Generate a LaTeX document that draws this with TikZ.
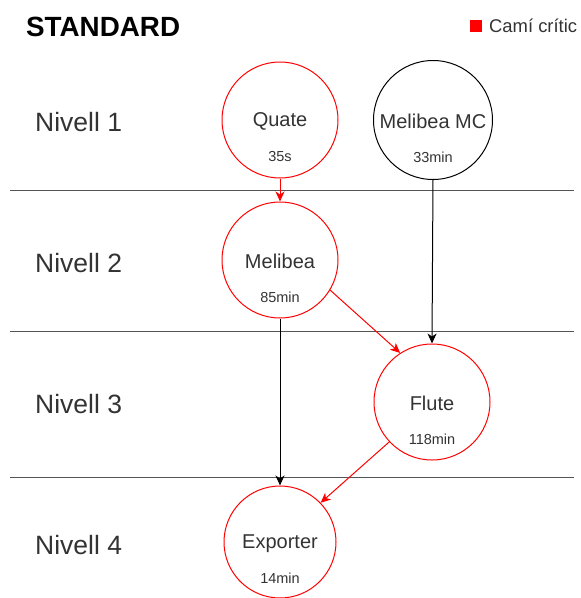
\documentclass[tikz,border=0pt]{standalone}
\usepackage{fontspec}
\setmainfont{Liberation Sans}
\usetikzlibrary{arrows.meta}
\definecolor{crit}{HTML}{FF0000}
\definecolor{ink}{HTML}{333333}
\definecolor{rule}{HTML}{555555}
\tikzset{
  task/.style={circle, draw=#1, line width=1pt, inner sep=0pt, minimum size=116pt},
  task/.default=crit,
  tname/.style={text=ink, font=\fontsize{20}{22}\selectfont, inner sep=0pt},
  ttime/.style={text=ink, font=\fontsize{14.5}{16}\selectfont, inner sep=0pt},
  lvl/.style={text=ink, font=\fontsize{26.5}{30}\selectfont, anchor=west, inner sep=0pt},
  sep/.style={draw=rule, line width=1pt},
  critarrow/.style={draw=crit, line width=1pt, -{Stealth[length=10pt, width=9pt, inset=3pt]}},
  normarrow/.style={draw=black, line width=1pt, -{Stealth[length=10pt, width=9pt, inset=3pt]}}
}
\begin{document}
\begin{tikzpicture}[x=1pt, y=-1pt]
  \useasboundingbox (0,0) rectangle (581,598);

  % title and legend
  \node[anchor=west, inner sep=0pt, font=\bfseries\fontsize{27.8}{31}\selectfont] (title) at (26,27) {STANDARD};
  \node[fill=crit, minimum size=12pt, inner sep=0pt] (legbox) at (476,26) {};
  \node[anchor=west, inner sep=0pt, text=ink, font=\fontsize{18.4}{21}\selectfont] (legtext) at (489,26) {Camí crític};

  % level separators
  \coordinate (s1l) at (10,190); \coordinate (s1r) at (574,190);
  \coordinate (s2l) at (10,331); \coordinate (s2r) at (574,331);
  \coordinate (s3l) at (10,477); \coordinate (s3r) at (574,477);
  \draw[sep] (s1l) -- (s1r);
  \draw[sep] (s2l) -- (s2r);
  \draw[sep] (s3l) -- (s3r);

  % level labels
  \node[lvl] (n1) at (35,122) {Nivell 1};
  \node[lvl] (n2) at (35,263) {Nivell 2};
  \node[lvl] (n3) at (35,404) {Nivell 3};
  \node[lvl] (n4) at (35,545) {Nivell 4};

  % tasks
  \node[task] (quate) at (280,120) {};
  \node[task=black, minimum size=119pt] (mmc) at (433,120) {};
  \node[task] (melibea) at (280,260) {};
  \node[task] (flute) at (432,402) {};
  \node[task, minimum size=112pt] (exporter) at (280,542) {};

  \node[tname] (quateN) at ([yshift=-1.5pt]quate.center) {Quate};
  \node[ttime] (quateT) at ([yshift=-37pt]quate.center) {35s};
  \node[tname] (mmcN) at ([yshift=-1.5pt]mmc.center) {Melibea MC};
  \node[ttime] (mmcT) at ([yshift=-37pt]mmc.center) {33min};
  \node[tname] (melibeaN) at ([yshift=-1.5pt]melibea.center) {Melibea};
  \node[ttime] (melibeaT) at ([yshift=-37pt]melibea.center) {85min};
  \node[tname] (fluteN) at ([yshift=-1.5pt]flute.center) {Flute};
  \node[ttime] (fluteT) at ([yshift=-37pt]flute.center) {118min};
  \node[tname] (exporterN) at ([yshift=-1.5pt]exporter.center) {Exporter};
  \node[ttime] (exporterT) at ([yshift=-36pt]exporter.center) {14min};

  % dependencies
  \draw[critarrow] (quate.south) -- (melibea.north);
  \draw[normarrow] (mmc.south) -- (flute.north);
  \draw[critarrow] (melibea.-31) -- (flute.123);
  \draw[normarrow] (melibea.south) -- (exporter.north);
  \draw[critarrow] (flute.223) -- (exporter.44);
\end{tikzpicture}
\end{document}
